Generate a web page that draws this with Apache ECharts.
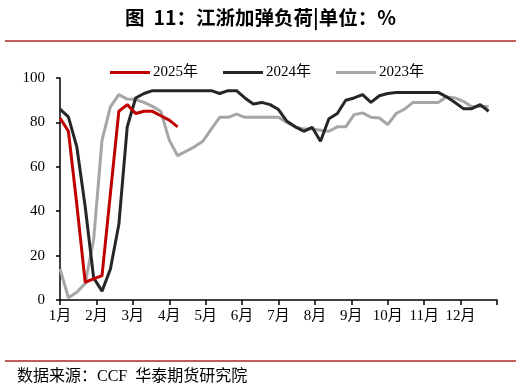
<!DOCTYPE html>
<html><head><meta charset="utf-8">
<script src="https://cdn.jsdelivr.net/npm/echarts@6/dist/echarts.min.js"></script>
<style>html,body{margin:0;padding:0;background:#fff}#c{width:521px;height:390px}</style>
</head><body><div id="c"></div>
<script>
const monthLabels = ['1月','2月','3月','4月','5月','6月','7月','8月','9月','10月','11月','12月'];
const weeksPerYear = 52;
const seriesNames = ['2025年','2024年','2023年'];
const s2025 = [82,76,43,8,9.5,11,48,85,88,84,85,85,83,81,78];
const s2024 = [86,82.5,69,42,10,4,14,34,78,91,93,94.3,94.3,94.3,94.3,94.3,94.3,94.3,94.3,93,94.3,94.3,91,88.3,89,88,85.8,80.5,78,76,77.8,71.5,81.6,84,90,91,92.5,89,92,93,93.5,93.5,93.5,93.5,93.5,93.5,91.5,89,86.2,86.2,88,85];
const s2023 = [14,1,3.5,7.5,27,72,87,92.5,90.5,90.3,89,87.2,85,72,65,67,69,71.5,77,82.3,82.3,83.7,82.3,82.3,82.3,82.3,82.3,80,78,77,77,76.5,76,78,78,83.5,84.3,82.3,82,79,84,86,89,89,89,89,91.5,91,89.5,87,87.3,87];
const yTicks = [0,20,40,60,80,100];

const toPoints = arr => arr.map((v, i) => [i * 12 / weeksPerYear, v]);
const serif = "'Liberation Serif','Noto Sans CJK SC',serif";
const colors = ['#c00000', '#262626', '#a6a6a6'];
const chart = echarts.init(document.getElementById('c'), null, {renderer: 'canvas'});
chart.setOption({
  animation: false,
  backgroundColor: '#fff',
  title: {
    text: '图  11：江浙加弹负荷|单位：%',
    left: 'center', top: 3,
    textStyle: {fontSize: 19.5, fontWeight: 'bold', color: '#000', fontFamily: "'Noto Sans CJK SC',sans-serif"}
  },
  graphic: [
    {type: 'rect', shape: {x: 5, y: 40, width: 511, height: 2}, style: {fill: '#c55a5a'}},
    {type: 'rect', shape: {x: 5, y: 360, width: 511, height: 2}, style: {fill: '#c55a5a'}},
    {type: 'text', left: 17, top: 369, style: {text: '数据来源：CCF  华泰期货研究院', font: "16px 'Liberation Serif','Noto Sans CJK SC',serif", fill: '#000'}}
  ],
  legend: {
    top: 60, left: 105,
    icon: 'rect',
    itemWidth: 40, itemHeight: 3, itemGap: 25,
    textStyle: {fontSize: 15, color: '#000', fontFamily: serif, padding: [0, 0, 0, -2]},
    data: seriesNames
  },
  grid: {left: 60, right: 24, top: 78, bottom: 90, containLabel: false},
  xAxis: {
    type: 'value', min: 0, max: 12, interval: 1,
    axisLine: {show: true, lineStyle: {color: '#000', width: 1.5}},
    axisTick: {show: true, length: 5, lineStyle: {color: '#000', width: 1.5}},
    axisLabel: {
      margin: 9, fontSize: 15, color: '#000', fontFamily: serif,
      formatter: v => { const k = Math.round(v); return k < 12 ? monthLabels[k] : ''; }
    },
    splitLine: {show: false}
  },
  yAxis: {
    type: 'value', min: yTicks[0], max: yTicks[yTicks.length - 1], interval: 20,
    axisLine: {show: true, lineStyle: {color: '#000', width: 1.5}},
    axisTick: {show: true, length: 4, lineStyle: {color: '#000', width: 1.5}},
    axisLabel: {margin: 15, fontSize: 15, color: '#000', fontFamily: serif},
    splitLine: {show: false}
  },
  series: [
    {name: seriesNames[2], type: 'line', data: toPoints(s2023), symbol: 'none', z: 2, lineStyle: {width: 3, color: colors[2]}, itemStyle: {color: colors[2]}},
    {name: seriesNames[1], type: 'line', data: toPoints(s2024), symbol: 'none', z: 3, lineStyle: {width: 3, color: colors[1]}, itemStyle: {color: colors[1]}},
    {name: seriesNames[0], type: 'line', data: toPoints(s2025), symbol: 'none', z: 4, lineStyle: {width: 3, color: colors[0]}, itemStyle: {color: colors[0]}}
  ]
});
</script></body></html>
